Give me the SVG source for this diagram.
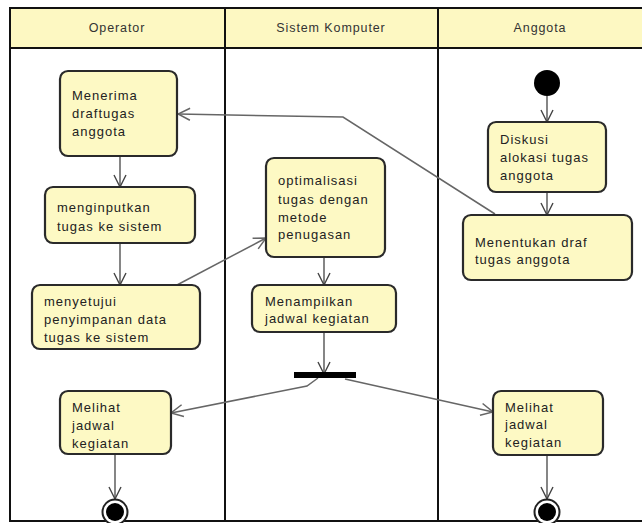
<svg xmlns="http://www.w3.org/2000/svg" width="642" height="523" viewBox="0 0 642 523">
<defs>
<style>
.lane{fill:#ffffff;stroke:#111;stroke-width:2}
.hdr{fill:#fdf8c2;stroke:#111;stroke-width:2}
.ht{font-family:"Liberation Sans",Arial,sans-serif;font-size:12.5px;letter-spacing:0.9px;fill:#333;text-anchor:middle}
.box{fill:#fdf9c4;stroke:#2a2a2a;stroke-width:2.2}
.t{font-family:"Liberation Sans",Arial,sans-serif;font-size:13px;letter-spacing:1px;fill:#222}
.c{fill:none;stroke:#444;stroke-width:1.3}
.cg{fill:none;stroke:#666;stroke-width:1.5}
</style>
<marker id="ah" viewBox="0 0 14 14" refX="13" refY="7" markerWidth="14" markerHeight="14" markerUnits="userSpaceOnUse" orient="auto">
<path d="M1,1 L13,7 L1,13" fill="none" stroke="#444" stroke-width="1.4"/>
</marker>
<marker id="ahg" viewBox="0 0 14 14" refX="13" refY="7" markerWidth="14" markerHeight="14" markerUnits="userSpaceOnUse" orient="auto">
<path d="M1,1 L13,7 L1,13" fill="none" stroke="#666" stroke-width="1.5"/>
</marker>
</defs>
<rect width="642" height="523" fill="#ffffff"/>
<g id="lanes">
<rect class="lane" x="10" y="8" width="640" height="513"/>
<rect class="hdr" x="10" y="8" width="215" height="40"/>
<rect class="hdr" x="225" y="8" width="213" height="40"/>
<rect class="hdr" x="438" y="8" width="212" height="40"/>
<line x1="225" y1="48" x2="225" y2="521" stroke="#111" stroke-width="2"/>
<line x1="438" y1="48" x2="438" y2="521" stroke="#111" stroke-width="2"/>
<text class="ht" x="117" y="32">Operator</text>
<text class="ht" x="331" y="32">Sistem Komputer</text>
<text class="ht" x="540" y="32">Anggota</text>
</g>
<g id="connectors">
<line class="c" x1="120" y1="156" x2="120" y2="187" marker-end="url(#ah)"/>
<line class="c" x1="120" y1="243" x2="120" y2="285" marker-end="url(#ah)"/>
<line class="cg" x1="177" y1="285" x2="266" y2="238" marker-end="url(#ahg)"/>
<line class="c" x1="324" y1="257" x2="324" y2="285" marker-end="url(#ah)"/>
<line class="c" x1="324" y1="332" x2="324" y2="374" marker-end="url(#ah)"/>
<polyline class="cg" points="318,378 307,386 171,413" marker-end="url(#ahg)"/>
<line class="cg" x1="345" y1="379" x2="493" y2="412" marker-end="url(#ahg)"/>
<line class="c" x1="115" y1="454" x2="115" y2="499" marker-end="url(#ah)"/>
<line class="c" x1="547" y1="455" x2="547" y2="499" marker-end="url(#ah)"/>
<line class="c" x1="547" y1="96" x2="547" y2="122" marker-end="url(#ah)"/>
<line class="c" x1="547" y1="192" x2="547" y2="215" marker-end="url(#ah)"/>
<polyline class="cg" points="495,214 343,117 178,114" marker-end="url(#ahg)"/>
</g>
<g id="start">
<circle cx="547" cy="83" r="13" fill="#000"/>
</g>
<g id="menerima">
<rect class="box" x="60" y="71" width="117" height="85" rx="8"/>
<text class="t" x="72" y="100">Menerima</text>
<text class="t" x="72" y="118">draftugas</text>
<text class="t" x="72" y="136">anggota</text>
</g>
<g id="menginputkan">
<rect class="box" x="45" y="187" width="150" height="56" rx="8"/>
<text class="t" x="57" y="212">menginputkan</text>
<text class="t" x="57" y="231">tugas ke sistem</text>
</g>
<g id="menyetujui">
<rect class="box" x="32" y="285" width="168" height="64" rx="8"/>
<text class="t" x="44" y="306">menyetujui</text>
<text class="t" x="44" y="324">penyimpanan data</text>
<text class="t" x="44" y="342">tugas ke sistem</text>
</g>
<g id="melihat-operator">
<rect class="box" x="60" y="391" width="111" height="63" rx="8"/>
<text class="t" x="72" y="412">Melihat</text>
<text class="t" x="72" y="430">jadwal</text>
<text class="t" x="72" y="448">kegiatan</text>
</g>
<g id="end-operator">
<circle cx="115" cy="512" r="12.5" fill="#fff" stroke="#222" stroke-width="2"/>
<circle cx="115" cy="512" r="9" fill="#000"/>
</g>
<g id="optimalisasi">
<rect class="box" x="266" y="158" width="119" height="99" rx="8"/>
<text class="t" x="278" y="185">optimalisasi</text>
<text class="t" x="278" y="204">tugas dengan</text>
<text class="t" x="278" y="222">metode</text>
<text class="t" x="278" y="239">penugasan</text>
</g>
<g id="menampilkan">
<rect class="box" x="252" y="285" width="144" height="47" rx="8"/>
<text class="t" x="265" y="306">Menampilkan</text>
<text class="t" x="265" y="323">jadwal kegiatan</text>
</g>
<g id="fork">
<rect x="294" y="372" width="62" height="6" fill="#000"/>
</g>
<g id="diskusi">
<rect class="box" x="488" y="122" width="118" height="70" rx="8"/>
<text class="t" x="500" y="144">Diskusi</text>
<text class="t" x="500" y="162">alokasi tugas</text>
<text class="t" x="500" y="180">anggota</text>
</g>
<g id="menentukan">
<rect class="box" x="463" y="215" width="169" height="65" rx="8"/>
<text class="t" x="475" y="247">Menentukan draf</text>
<text class="t" x="475" y="264">tugas anggota</text>
</g>
<g id="melihat-anggota">
<rect class="box" x="493" y="391" width="110" height="64" rx="8"/>
<text class="t" x="505" y="412">Melihat</text>
<text class="t" x="505" y="429">jadwal</text>
<text class="t" x="505" y="447">kegiatan</text>
</g>
<g id="end-anggota">
<circle cx="547" cy="512" r="12.5" fill="#fff" stroke="#222" stroke-width="2"/>
<circle cx="547" cy="512" r="9" fill="#000"/>
</g>
</svg>
